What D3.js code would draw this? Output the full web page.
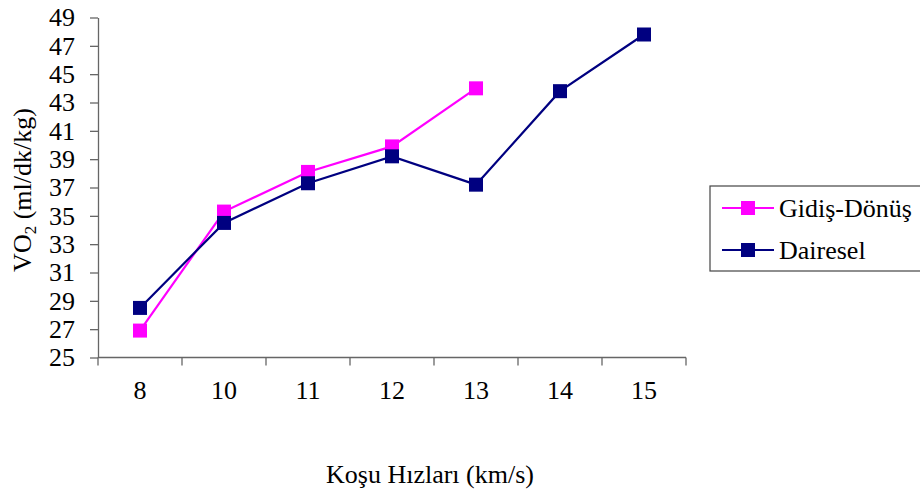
<!DOCTYPE html>
<html>
<head>
<meta charset="utf-8">
<script src="https://cdn.jsdelivr.net/npm/d3@7"></script>
<style>
  body { margin: 0; background: #fff; }
</style>
</head>
<body>
<svg id="chart" width="920" height="493"></svg>
<script>
// speeds (km/s) on the x axis
const speeds = ['8', '10', '11', '12', '13', '14', '15']
// VO2 values per series, null where no measurement
const gidisDonus = [26.9, 35.3, 38.1, 39.9, 44.0, null, null]
const dairesel = [28.5, 34.5, 37.3, 39.2, 37.2, 43.8, 47.8]
const yTicks = [25, 27, 29, 31, 33, 35, 37, 39, 41, 43, 45, 47, 49]

const series = [
  { name: 'Gidiş-Dönüş', values: gidisDonus, color: '#ff00ff' },
  { name: 'Dairesel', values: dairesel, color: '#000080' }
]

const FONT = '"Liberation Serif", "Times New Roman", Times, serif'
const FS = '26px'

const margin = { left: 98, top: 17.5, right: 234, bottom: 135.5 }
const width = 920 - margin.left - margin.right
const height = 493 - margin.top - margin.bottom

const svg = d3.select('#chart')
const g = svg.append('g').attr('transform', `translate(${margin.left},${margin.top})`)

const x = d3.scaleBand().domain(speeds).range([0, width])
const y = d3.scaleLinear().domain([25, 49]).range([height, 0])

// y axis
const yAxis = g.append('g')
  .call(d3.axisLeft(y).tickValues(yTicks).tickSize(8).tickSizeOuter(0).tickPadding(15))
yAxis.select('.domain').attr('stroke', '#666').attr('stroke-width', 1.3)
yAxis.selectAll('.tick line').attr('stroke', '#666').attr('stroke-width', 1.3)
yAxis.selectAll('.tick text')
  .style('font-family', FONT)
  .style('font-size', FS)
  .attr('fill', '#000')

// x axis, ticks at band edges
const xAxis = g.append('g').attr('transform', `translate(0,${height})`)
xAxis.append('line')
  .attr('x1', 0).attr('x2', width)
  .attr('stroke', '#666').attr('stroke-width', 1.3)
const edges = speeds.map(s => x(s)).concat([width])
xAxis.selectAll('.edge')
  .data(edges)
  .join('line')
  .attr('class', 'edge')
  .attr('x1', d => d).attr('x2', d => d)
  .attr('y1', 0).attr('y2', 8)
  .attr('stroke', '#666').attr('stroke-width', 1.3)
xAxis.selectAll('.lbl')
  .data(speeds)
  .join('text')
  .attr('class', 'lbl')
  .attr('x', d => x(d) + x.bandwidth() / 2)
  .attr('y', 41.5)
  .attr('text-anchor', 'middle')
  .style('font-family', FONT)
  .style('font-size', FS)
  .text(d => d)

// axis titles
svg.append('text')
  .attr('x', 430).attr('y', 483)
  .attr('text-anchor', 'middle')
  .style('font-family', FONT)
  .style('font-size', FS)
  .text('Koşu Hızları (km/s)')

const yTitle = svg.append('text')
  .attr('transform', 'translate(31,190) rotate(-90)')
  .attr('text-anchor', 'middle')
  .style('font-family', FONT)
  .style('font-size', FS)
yTitle.append('tspan').text('VO')
yTitle.append('tspan').attr('dy', 5).style('font-size', '17px').text('2')
yTitle.append('tspan').attr('dy', -5).text(' (ml/dk/kg)')

// lines and markers
const line = d3.line()
  .defined(d => d.v !== null)
  .x(d => x(d.s) + x.bandwidth() / 2)
  .y(d => y(d.v))

series.forEach(sr => {
  const pts = speeds.map((s, i) => ({ s: s, v: sr.values[i] }))
  g.append('path')
    .datum(pts)
    .attr('fill', 'none')
    .attr('stroke', sr.color)
    .attr('stroke-width', 2.2)
    .attr('d', line)
  g.selectAll(null)
    .data(pts.filter(d => d.v !== null))
    .join('rect')
    .attr('x', d => x(d.s) + x.bandwidth() / 2 - 7)
    .attr('y', d => y(d.v) - 7)
    .attr('width', 14)
    .attr('height', 14)
    .attr('fill', sr.color)
})

// legend
const legend = svg.append('g').attr('transform', 'translate(710,186)')
legend.append('rect')
  .attr('width', 212).attr('height', 85)
  .attr('fill', '#fff').attr('stroke', '#444').attr('stroke-width', 1.2)
series.forEach((sr, i) => {
  const ly = 22 + i * 42
  legend.append('line')
    .attr('x1', 12).attr('x2', 64).attr('y1', ly).attr('y2', ly)
    .attr('stroke', sr.color).attr('stroke-width', 2.2)
  legend.append('rect')
    .attr('x', 31).attr('y', ly - 7).attr('width', 14).attr('height', 14)
    .attr('fill', sr.color)
  legend.append('text')
    .attr('x', 69).attr('y', ly + 9)
    .style('font-family', FONT)
    .style('font-size', FS)
    .text(sr.name)
})
</script>
</body>
</html>
